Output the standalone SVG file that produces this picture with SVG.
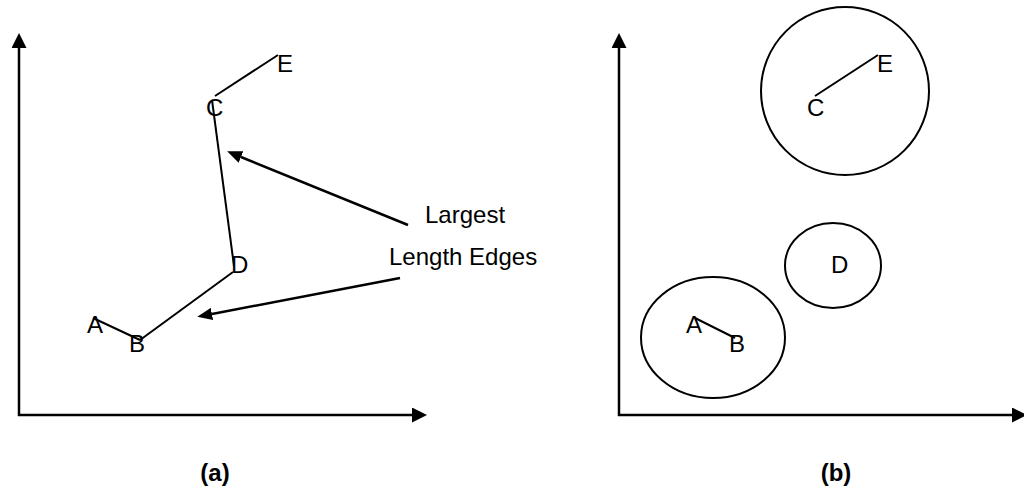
<svg xmlns="http://www.w3.org/2000/svg" width="1024" height="491" viewBox="0 0 1024 491">
<style>
.axis{stroke:#000;stroke-width:2.5;fill:none}
.edge{stroke:#000;stroke-width:2;fill:none}
.ann{stroke:#000;stroke-width:2.5;fill:none}
.ring{stroke:#000;stroke-width:2;fill:none}
.lbl{font-family:"Liberation Sans",Arial,sans-serif;font-size:24px;fill:#000}
.cap{font-family:"Liberation Sans",Arial,sans-serif;font-size:24px;font-weight:bold;fill:#000;text-anchor:middle}
</style>
<defs>
<marker id="axhead" markerWidth="6" markerHeight="6" refX="0" refY="3" orient="auto" markerUnits="strokeWidth">
<path d="M0,0 L6,3 L0,6 Z" fill="#000"/>
</marker>
<marker id="annhead" markerWidth="6" markerHeight="5" refX="0" refY="2.5" orient="auto" markerUnits="strokeWidth">
<path d="M0,0 L6,2.5 L0,5 Z" fill="#000"/>
</marker>
</defs>
<rect width="1024" height="491" fill="#fff"/>
<g id="axes-a">
<line class="axis" x1="19" y1="416" x2="19" y2="48" marker-end="url(#axhead)"/>
<line class="axis" x1="18" y1="415" x2="412" y2="415" marker-end="url(#axhead)"/>
</g>
<g id="axes-b">
<line class="axis" x1="619" y1="416" x2="619" y2="48" marker-end="url(#axhead)"/>
<line class="axis" x1="618" y1="415" x2="1012" y2="415" marker-end="url(#axhead)"/>
</g>
<g id="connectors">
<line class="edge" x1="215" y1="96" x2="278" y2="55"/>
<line class="edge" x1="212" y1="100" x2="234" y2="266"/>
<line class="edge" x1="233" y1="272" x2="140" y2="340"/>
<line class="edge" x1="93" y1="318" x2="140" y2="340"/>
<line class="ann" x1="408" y1="225" x2="241" y2="157" marker-end="url(#annhead)"/>
<line class="ann" x1="400" y1="278" x2="212" y2="314" marker-end="url(#annhead)"/>
<line class="edge" x1="815" y1="96" x2="878" y2="55"/>
<line class="edge" x1="695" y1="318" x2="735" y2="338"/>
</g>
<g id="node-a-A"><text class="lbl" x="87" y="333">A</text></g>
<g id="node-a-B"><text class="lbl" x="129" y="352">B</text></g>
<g id="node-a-C"><text class="lbl" x="206" y="116">C</text></g>
<g id="node-a-D"><text class="lbl" x="231" y="273">D</text></g>
<g id="node-a-E"><text class="lbl" x="277" y="72">E</text></g>
<g id="annotation">
<text class="lbl" x="425" y="223">Largest</text>
<text class="lbl" x="389" y="265">Length Edges</text>
</g>
<g id="cluster-CE"><circle class="ring" cx="845" cy="91" r="84"/></g>
<g id="cluster-D"><ellipse class="ring" cx="833" cy="265.5" rx="48" ry="42.5"/></g>
<g id="cluster-AB"><ellipse class="ring" cx="713" cy="337.5" rx="72" ry="60.5"/></g>
<g id="node-b-A"><text class="lbl" x="686" y="333">A</text></g>
<g id="node-b-B"><text class="lbl" x="729" y="352">B</text></g>
<g id="node-b-C"><text class="lbl" x="807" y="116">C</text></g>
<g id="node-b-D"><text class="lbl" x="831" y="273">D</text></g>
<g id="node-b-E"><text class="lbl" x="877" y="72">E</text></g>
<g id="captions">
<text class="cap" x="215" y="481">(a)</text>
<text class="cap" x="836" y="481">(b)</text>
</g>
</svg>
